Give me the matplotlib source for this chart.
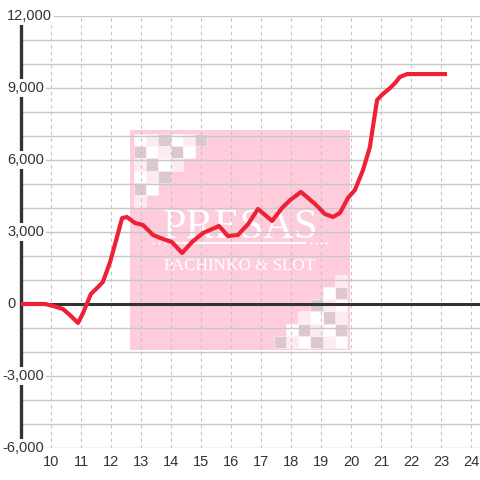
import matplotlib
matplotlib.use("Agg")
import matplotlib.pyplot as plt
import matplotlib.transforms as mtransforms
from matplotlib.patches import Rectangle

# hourly balance curve (hour of day, cumulative value)
hours = [9.0, 9.8, 10.07, 10.4, 10.63, 10.9, 11.07, 11.33, 11.57, 11.73, 11.97,
         12.2, 12.37, 12.53, 12.8, 13.07, 13.4, 13.73, 14.03, 14.37, 14.7, 15.07,
         15.6, 15.9, 16.23, 16.57, 16.9, 17.37, 17.7, 17.97, 18.33, 18.8, 19.13,
         19.4, 19.63, 19.9, 20.13, 20.4, 20.63, 20.73, 20.87, 21.03, 21.3, 21.47,
         21.63, 21.87, 23.2]
values = [0, 0, -80, -210, -460, -790, -375, 420, 710, 920, 1750,
          2790, 3580, 3625, 3375, 3290, 2875, 2710, 2580, 2125, 2580, 2960,
          3250, 2830, 2875, 3330, 3960, 3460, 4000, 4330, 4670, 4170, 3750,
          3625, 3790, 4420, 4750, 5580, 6540, 7375, 8500, 8710, 9000, 9210,
          9460, 9580, 9580]

x_ticks = list(range(10, 25))
y_label_values = [12000, 9000, 6000, 3000, 0, -3000, -6000]
y_grid_values = list(range(-6000, 12001, 1000))

# watermark checker pattern (W white, L light pink, G grey)
checker_rows = ["WLGWLG", "GWLGW", "LGWL", "WLG", "GW", "L"]
checker_colors = {"W": "#FFFFFF", "L": "#FCEBF4", "G": "#DCC8CD"}

LINE_RED = "#EE2236"
DARK = "#333333"
GRID = "#C8C8C8"

plt.rcParams["font.family"] = ["Liberation Sans", "DejaVu Sans"]

fig = plt.figure(figsize=(4.8, 4.8), dpi=100)
fig.patch.set_facecolor("white")

# --- watermark (behind the main axes) ---
wm = fig.add_axes([130 / 480, (480 - 350) / 480, 220 / 480, 220 / 480], zorder=0)
wm.set_xlim(0, 220)
wm.set_ylim(220, 0)
wm.axis("off")
wm.add_patch(Rectangle((0, 0), 220, 220, facecolor="#FFCCDC", edgecolor="none"))
cell = 12.2
for r, row in enumerate(checker_rows):
    for c, code in enumerate(row):
        color = checker_colors[code]
        wm.add_patch(Rectangle((4 + c * cell, 4 + r * cell), cell, cell,
                               facecolor=color, edgecolor="#FFF4FA", lw=0.4))
        # mirrored cluster in the bottom-right corner
        wm.add_patch(Rectangle((217 - (c + 1) * cell, 218 - (r + 1) * cell), cell, cell,
                               facecolor=color, edgecolor="#FFF4FA", lw=0.4))
wm.text(111, 108, "PRESAS", color="white", fontsize=30.5, ha="center", va="baseline",
        family="Liberation Serif")
wm.plot([42, 176], [113, 113], color="white", lw=1.6, solid_capstyle="butt")
wm.scatter([23, 29, 35, 41, 181, 186, 191, 196], [113] * 8, s=2.5, color="white",
           linewidths=0)
wm.text(110, 140, "PACHINKO & SLOT", color="white", fontsize=12.3, ha="center",
        va="baseline", family="Liberation Serif")

# --- main chart ---
ax = fig.add_axes([21 / 480, 32 / 480, 459 / 480, 432 / 480], zorder=1)
ax.patch.set_alpha(0)
ax.set_xlim(9, 24.3)
ax.set_ylim(-6000, 12000)

ax.set_xticks(x_ticks)
ax.set_yticks(y_grid_values)
ax.set_yticklabels([])
ax.tick_params(axis="both", length=0)
ax.tick_params(axis="x", pad=5, labelsize=10.5, labelcolor=DARK)

ax.grid(axis="y", color=GRID, lw=1.0)
ax.grid(axis="x", color="#C4C4C4", lw=0.8, linestyle=(0, (3, 3)))
ax.set_axisbelow(True)

for side in ["top", "right", "bottom"]:
    ax.spines[side].set_visible(False)
ax.spines["left"].set_color(DARK)
ax.spines["left"].set_linewidth(2.4)

# y labels drawn over the axis line with a white backing
trans = mtransforms.blended_transform_factory(fig.transFigure, ax.transData)
for v in y_label_values:
    x0 = 7 / 480 if v >= 0 else 2 / 480
    ax.text(x0, v, f"{v:,}", transform=trans, ha="left", va="center",
            fontsize=10.5, color=DARK, zorder=3,
            bbox=dict(boxstyle="square,pad=0.12", facecolor="white", edgecolor="none"))

ax.axhline(0, color=DARK, lw=2.2, zorder=4)
ax.plot(hours, values, color=LINE_RED, lw=3.0, solid_joinstyle="round",
        solid_capstyle="butt", zorder=5)

fig.savefig("out.png", dpi=100)
